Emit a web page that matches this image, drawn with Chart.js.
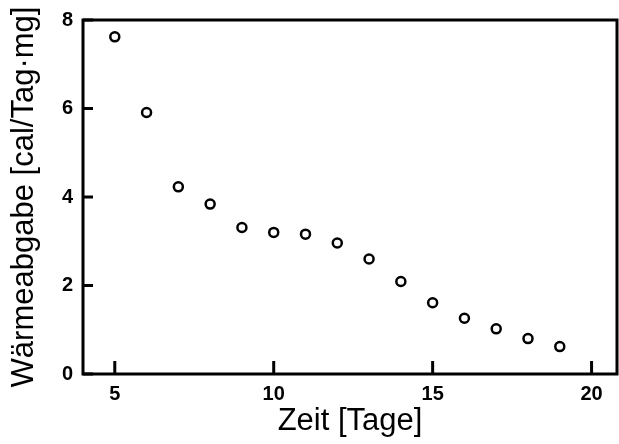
<!DOCTYPE html>
<html>
<head>
  <title>Waermeabgabe</title>
  <script src="https://cdn.jsdelivr.net/npm/chart.js"></script>
  <style>
    body { margin: 0; background: #fff; }
    #box { width: 619px; height: 444px; }
  </style>
</head>
<body>
  <div id="box"><canvas id="myChart"></canvas></div>
  <script>
    // data
    var days = [5, 6, 7, 8, 9, 10, 11, 12, 13, 14, 15, 16, 17, 18, 19];
    var heat = [7.62, 5.91, 4.23, 3.84, 3.31, 3.20, 3.16, 2.96, 2.60, 2.09, 1.61, 1.26, 1.02, 0.80, 0.62];
    var xTicks = [5, 10, 15, 20];
    var yTicks = [0, 2, 4, 6, 8];

    var points = days.map(function (d, i) { return { x: d, y: heat[i] }; });

    // frame + inward tick marks
    var frame = {
      id: 'frame',
      afterDatasetsDraw: function (chart) {
        var c = chart.ctx, a = chart.chartArea;
        var xs = chart.scales.x, ys = chart.scales.y;
        c.save();
        c.strokeStyle = '#000';
        c.lineWidth = 3;
        c.strokeRect(a.left, a.top, a.right - a.left, a.bottom - a.top);
        c.beginPath();
        xTicks.forEach(function (t) {
          var px = xs.getPixelForValue(t);
          c.moveTo(px, a.bottom);
          c.lineTo(px, a.bottom - 13);
        });
        yTicks.forEach(function (t) {
          var py = ys.getPixelForValue(t);
          c.moveTo(a.left, py);
          c.lineTo(a.left + 10, py);
        });
        c.stroke();
        c.restore();
      }
    };

    var ctx = document.getElementById('myChart').getContext('2d');
    var myChart = new Chart(ctx, {
      type: 'scatter',
      data: {
        datasets: [{
          data: points,
          pointStyle: 'circle',
          pointRadius: 4.5,
          pointHoverRadius: 4.5,
          pointBorderWidth: 2.5,
          pointBackgroundColor: '#fff',
          pointBorderColor: '#000'
        }]
      },
      options: {
        responsive: true,
        maintainAspectRatio: false,
        animation: false,
        layout: { autoPadding: false, padding: { top: 20, right: 2, left: 0, bottom: 0 } },
        plugins: { legend: { display: false }, tooltip: { enabled: false } },
        scales: {
          x: {
            type: 'linear',
            min: 4,
            max: 20.8,
            afterBuildTicks: function (s) { s.ticks = xTicks.map(function (v) { return { value: v }; }); },
            afterFit: function (s) { s.height = 70; s.paddingRight = 0; },
            grid: { display: false },
            border: { display: false },
            ticks: { color: '#000', padding: 0, font: { family: 'Liberation Sans', size: 20, weight: 'bold' } },
            title: { display: true, text: 'Zeit [Tage]', color: '#000', padding: { top: 0, bottom: 4 },
                     font: { family: 'Liberation Sans', size: 31 } }
          },
          y: {
            min: 0,
            max: 8,
            afterBuildTicks: function (s) { s.ticks = yTicks.map(function (v) { return { value: v }; }); },
            afterFit: function (s) { s.width = 83; },
            grid: { display: false },
            border: { display: false },
            ticks: { color: '#000', padding: 2, font: { family: 'Liberation Sans', size: 20, weight: 'bold' } },
            title: { display: true, text: 'Wärmeabgabe [cal/Tag·mg]', color: '#000', padding: { top: 6, bottom: 0 },
                     font: { family: 'Liberation Sans', size: 31 } }
          }
        }
      },
      plugins: [frame]
    });
  </script>
</body>
</html>
